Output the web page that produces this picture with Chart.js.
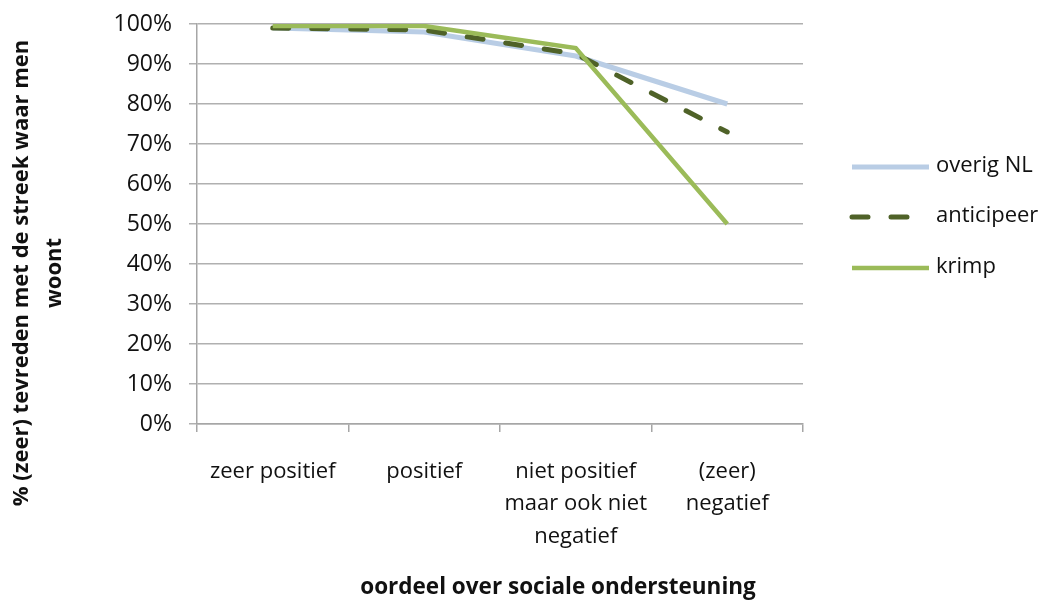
<!DOCTYPE html>
<html>
<head>
<meta charset="utf-8">
<script src="https://cdn.jsdelivr.net/npm/chart.js@4.4.0/dist/chart.umd.min.js"></script>
<style>
  html, body { margin: 0; padding: 0; background: #ffffff; }
  #wrap { width: 1051px; height: 603px; position: relative; }
</style>
</head>
<body>
<div id="wrap"><canvas id="chart"></canvas></div>
<script>
// Categories of the x axis (multi-line labels as arrays)
const categories = [
  'zeer positief',
  'positief',
  ['niet positief', 'maar ook niet', 'negatief'],
  ['(zeer)', 'negatief']
];

// Share (%) satisfied with the region, per group
const overigNL   = [99, 98, 92, 80];
const anticipeer = [99, 98.5, 92.5, 73];
const krimp      = [99.5, 99.5, 94, 50];

const seriesNames = ['overig NL', 'anticipeer', 'krimp'];
const yTitleLines = ['% (zeer) tevreden met de streek waar men', 'woont'];
const xTitle = 'oordeel over sociale ondersteuning';

const FONT = '"Open Sans", "DejaVu Sans", sans-serif';
const TEXT = '#111111';

// Axis titles and legend drawn on the canvas
const decorations = {
  id: 'decorations',
  afterDraw(chart) {
    const ctx = chart.ctx;
    ctx.save();
    ctx.fillStyle = TEXT;

    // y title (rotated, two lines)
    ctx.font = 'bold 22px ' + FONT;
    ctx.textAlign = 'center';
    ctx.textBaseline = 'middle';
    ctx.translate(0, 273);
    ctx.rotate(-Math.PI / 2);
    ctx.fillText(yTitleLines[0], 0, 22);
    ctx.fillText(yTitleLines[1], 0, 55);
    ctx.setTransform(1, 0, 0, 1, 0, 0);

    // x title
    ctx.font = 'bold 22.5px ' + FONT;
    ctx.fillText(xTitle, 558, 588);

    // legend
    const ys = [167, 217, 268];
    chart.data.datasets.forEach((ds, i) => {
      ctx.save();
      ctx.strokeStyle = ds.borderColor;
      ctx.lineWidth = ds.borderWidth;
      ctx.lineCap = ds.borderCapStyle || 'butt';
      ctx.setLineDash(ds.borderDash || []);
      ctx.beginPath();
      ctx.moveTo(852, ys[i]);
      ctx.lineTo(929, ys[i]);
      ctx.stroke();
      ctx.restore();
      ctx.font = '22px ' + FONT;
      ctx.textAlign = 'left';
      ctx.textBaseline = 'middle';
      ctx.fillStyle = TEXT;
      ctx.fillText(ds.label, 936, ys[i] - 1);
    });
    ctx.restore();
  }
};

new Chart(document.getElementById('chart'), {
  type: 'line',
  data: {
    labels: categories,
    datasets: [
      {
        label: seriesNames[0],
        data: overigNL,
        borderColor: '#b9cde5',
        borderWidth: 5,
        pointRadius: 0,
        tension: 0,
        order: 3
      },
      {
        label: seriesNames[1],
        data: anticipeer,
        borderColor: '#4f6228',
        borderWidth: 5,
        borderDash: [16, 23],
        borderCapStyle: 'round',
        pointRadius: 0,
        tension: 0,
        order: 2
      },
      {
        label: seriesNames[2],
        data: krimp,
        borderColor: '#9bbb59',
        borderWidth: 4.5,
        pointRadius: 0,
        tension: 0,
        order: 1
      }
    ]
  },
  options: {
    responsive: true,
    maintainAspectRatio: false,
    animation: false,
    devicePixelRatio: 1,
    layout: { padding: { top: 24, right: 248, left: 0, bottom: 0 } },
    plugins: {
      legend: { display: false },
      tooltip: { enabled: false }
    },
    scales: {
      x: {
        offset: true,
        grid: {
          offset: true,
          drawOnChartArea: false,
          color: '#a6a6a6',
          tickLength: 8,
          lineWidth: 1.5
        },
        border: { color: '#a6a6a6', width: 1.5 },
        ticks: {
          color: TEXT,
          font: { family: FONT, size: 22, lineHeight: 1.48 },
          padding: 23,
          maxRotation: 0,
          autoSkip: false
        },
        afterFit(scale) {
          scale.height = 179;
          scale.paddingLeft = 0;
          scale.paddingRight = 0;
        }
      },
      y: {
        min: 0,
        max: 100,
        ticks: {
          stepSize: 10,
          color: TEXT,
          font: { family: FONT, size: 23 },
          padding: 17,
          callback: v => v + '%'
        },
        grid: {
          color: '#b0b0b0',
          lineWidth: 1.5,
          tickLength: 8
        },
        border: { color: '#a6a6a6', width: 1.5 },
        afterFit(scale) {
          scale.width = 197;
          scale.paddingTop = 0;
          scale.paddingBottom = 0;
        }
      }
    }
  },
  plugins: [decorations]
});
</script>
</body>
</html>
